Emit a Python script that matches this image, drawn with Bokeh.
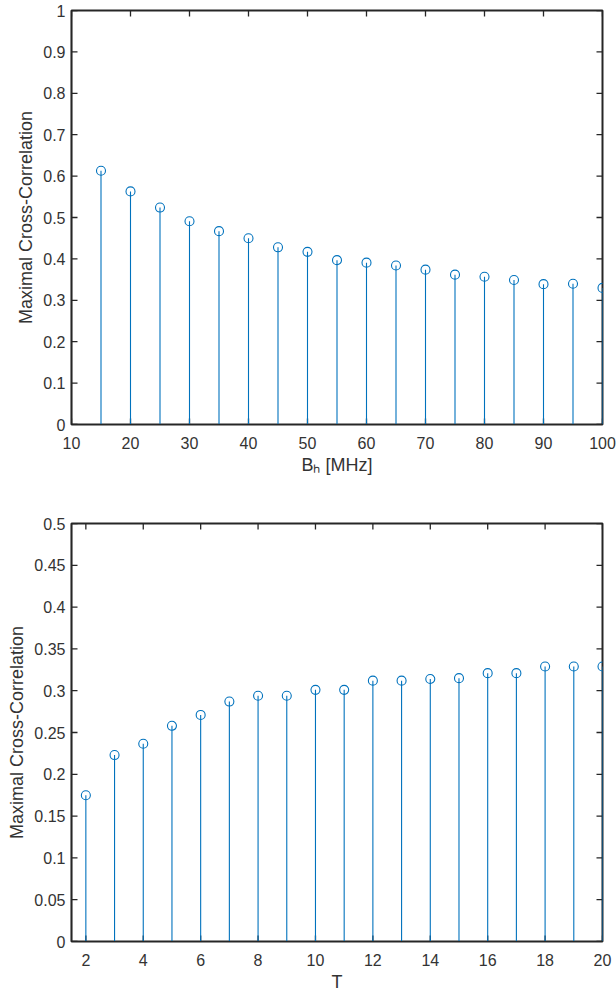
import math
from bokeh.plotting import figure
from bokeh.models import Range1d, FixedTicker
from bokeh.layouts import column
from bokeh.embed import file_html
from bokeh.resources import INLINE

# ---------------- data ----------------
bandwidth_mhz = [15, 20, 25, 30, 35, 40, 45, 50, 55, 60, 65, 70, 75, 80, 85, 90, 95, 100]
corr_vs_bandwidth = [0.613, 0.563, 0.524, 0.491, 0.467, 0.450, 0.428, 0.417, 0.397,
                     0.391, 0.384, 0.374, 0.362, 0.357, 0.349, 0.339, 0.340, 0.330]

t_values = [2, 3, 4, 5, 6, 7, 8, 9, 10, 11, 12, 13, 14, 15, 16, 17, 18, 19, 20]
corr_vs_t = [0.175, 0.223, 0.2365, 0.258, 0.271, 0.287, 0.294, 0.294, 0.301, 0.301,
             0.312, 0.312, 0.314, 0.315, 0.321, 0.321, 0.329, 0.329, 0.329]

x1_ticks = [10, 20, 30, 40, 50, 60, 70, 80, 90, 100]
y1_ticks = [0, 0.1, 0.2, 0.3, 0.4, 0.5, 0.6, 0.7, 0.8, 0.9, 1]
y1_tick_labels = ["0", "0.1", "0.2", "0.3", "0.4", "0.5", "0.6", "0.7", "0.8", "0.9", "1"]
x1_range = (10, 100)
y1_range = (0, 1)

x2_ticks = [2, 4, 6, 8, 10, 12, 14, 16, 18, 20]
y2_ticks = [0, 0.05, 0.1, 0.15, 0.2, 0.25, 0.3, 0.35, 0.4, 0.45, 0.5]
y2_tick_labels = ["0", "0.05", "0.1", "0.15", "0.2", "0.25", "0.3", "0.35", "0.4", "0.45", "0.5"]
x2_range = (1.5, 20)
y2_range = (0, 0.5)

y_label = "Maximal Cross-Correlation"
x1_label = "B\u2095 [MHz]"
x2_label = "T"

# ---------------- style ----------------
BLUE = "#0072BD"
AXIS = "#262626"
TEXT = "#333333"
FONT = "Liberation Sans"
TICK_FS = "16px"
LABEL_FS = "18px"
TICK_LEN = 6


def style_axis(ax, ticks):
    ax.ticker = FixedTicker(ticks=ticks)
    ax.minor_tick_line_color = None
    ax.major_tick_in = 0
    ax.major_tick_out = 0
    ax.axis_line_color = AXIS
    ax.axis_line_width = 1.2
    ax.major_label_text_font = FONT
    ax.major_label_text_font_size = TICK_FS
    ax.major_label_text_color = TEXT
    ax.axis_label_text_font = FONT
    ax.axis_label_text_font_size = LABEL_FS
    ax.axis_label_text_font_style = "normal"
    ax.axis_label_text_color = TEXT


def make_fig(xr, yr, xt, yt, ylabels, xlabel, height, top, bottom, xs, ys):
    p = figure(width=616, height=height, x_range=Range1d(*xr), y_range=Range1d(*yr),
               output_backend="svg", toolbar_location=None,
               min_border_left=71, min_border_right=14,
               min_border_top=top, min_border_bottom=bottom)
    p.grid.visible = False
    p.outline_line_color = AXIS
    p.outline_line_width = 2
    p.outline_line_alpha = 1
    p.background_fill_color = "white"
    p.border_fill_color = "white"

    bx = p.xaxis[0]
    style_axis(bx, xt)
    bx.axis_label = xlabel
    bx.major_label_standoff = 12
    bx.axis_label_standoff = 3
    by = p.yaxis[0]
    style_axis(by, yt)
    by.axis_label = y_label
    by.major_label_overrides = {v: s for v, s in zip(yt, ylabels)}
    by.major_label_standoff = 6
    by.axis_label_standoff = 4

    # inward ticks on all four sides of the box (MATLAB style)
    nx, ny = len(xt), len(yt)
    tick_style = dict(length=TICK_LEN, length_units="screen", line_color=AXIS,
                      line_width=1.3)
    p.ray(x=xt, y=[yr[0]] * nx, angle=math.pi / 2, **tick_style)
    p.ray(x=xt, y=[yr[1]] * nx, angle=-math.pi / 2, **tick_style)
    p.ray(x=[xr[0]] * ny, y=yt, angle=0.0, **tick_style)
    p.ray(x=[xr[1]] * ny, y=yt, angle=math.pi, **tick_style)

    y0 = [0] * len(xs)
    p.segment(x0=xs, y0=y0, x1=xs, y1=ys, line_color=BLUE, line_width=1.1)
    p.scatter(x=xs, y=ys, marker="circle", size=9, fill_color=None,
              line_color=BLUE, line_width=1.1)
    return p


p1 = make_fig(x1_range, y1_range, x1_ticks, y1_ticks, y1_tick_labels, x1_label,
              497, 10, 73, bandwidth_mhz, corr_vs_bandwidth)
p2 = make_fig(x2_range, y2_range, x2_ticks, y2_ticks, y2_tick_labels, x2_label,
              497, 26, 53, t_values, corr_vs_t)

layout = column(p1, p2, spacing=0)
open("out.html", "w").write(file_html(layout, INLINE))
